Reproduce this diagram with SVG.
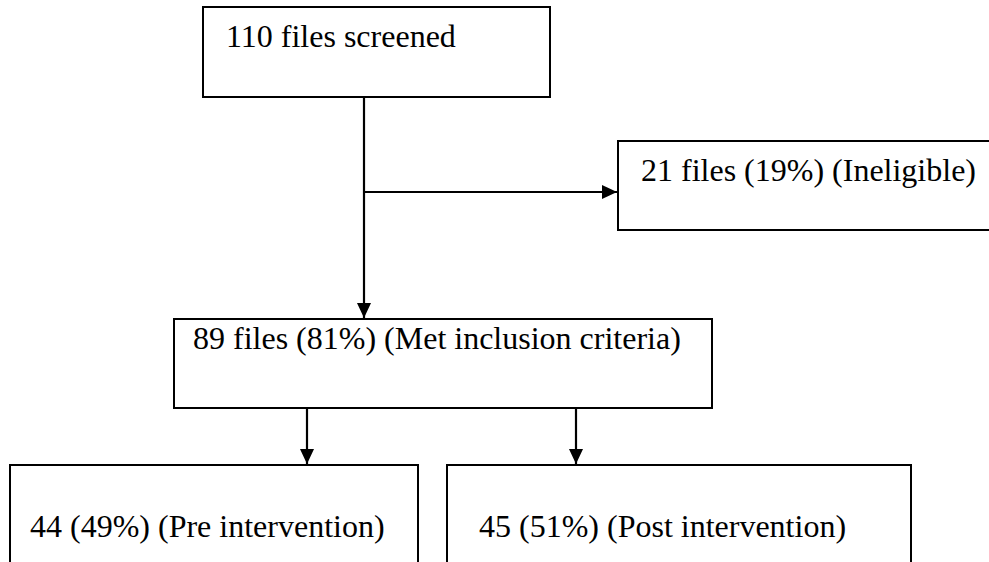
<svg xmlns="http://www.w3.org/2000/svg" width="989" height="562" viewBox="0 0 989 562">
  <style>
    .box { fill: #ffffff; stroke: #000000; stroke-width: 2; }
    .lbl { font-family: "Liberation Serif", "Times New Roman", serif; font-size: 32px; fill: #000000; }
    .wire { fill: none; stroke: #000000; stroke-width: 2.2; }
  </style>
  <defs>
    <marker id="head" viewBox="0 0 15 14" refX="15" refY="7" markerWidth="15" markerHeight="14" markerUnits="userSpaceOnUse" orient="auto">
      <path d="M0,0 L15,7 L0,14 Z" fill="#000000"/>
    </marker>
  </defs>
  <rect width="989" height="562" fill="#ffffff"/>

  <g id="screened">
    <rect class="box" x="203" y="7" width="347" height="90"/>
    <text class="lbl" x="226" y="47">110 files screened</text>
  </g>

  <g id="ineligible">
    <rect class="box" x="618" y="141" width="380" height="89"/>
    <text class="lbl" x="641" y="181">21 files (19%) (Ineligible)</text>
  </g>

  <g id="included">
    <rect class="box" x="174" y="319" width="538" height="89"/>
    <text class="lbl" x="193" y="349">89 files (81%) (Met inclusion criteria)</text>
  </g>

  <g id="pre">
    <rect class="box" x="10" y="465" width="408" height="110"/>
    <text class="lbl" x="30" y="537">44 (49%) (Pre intervention)</text>
  </g>

  <g id="post">
    <rect class="box" x="447" y="465" width="464" height="110"/>
    <text class="lbl" x="479" y="537">45 (51%) (Post intervention)</text>
  </g>

  <g id="connectors">
    <path class="wire" d="M364,97 L364,318" marker-end="url(#head)"/>
    <path class="wire" d="M364,192 L617,192" marker-end="url(#head)"/>
    <path class="wire" d="M307,408 L307,464" marker-end="url(#head)"/>
    <path class="wire" d="M576,408 L576,464" marker-end="url(#head)"/>
  </g>
</svg>
